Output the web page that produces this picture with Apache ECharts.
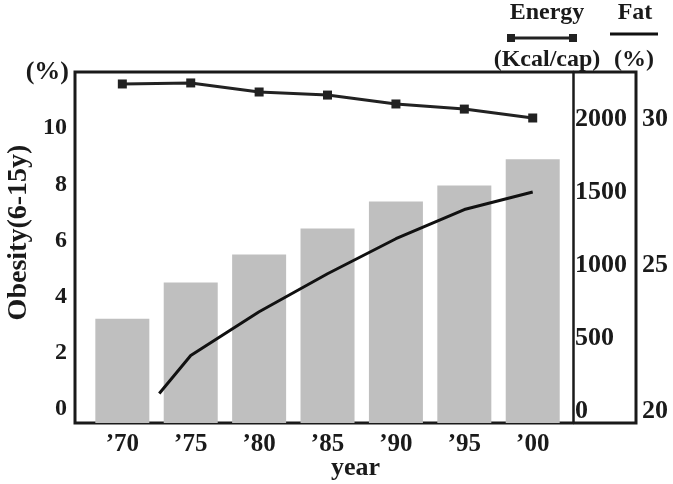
<!DOCTYPE html>
<html><head><meta charset="utf-8">
<script src="https://cdn.jsdelivr.net/npm/echarts@6/dist/echarts.min.js"></script>
<style>html,body{margin:0;padding:0;background:#fff}#c{width:673px;height:484px}</style>
</head><body><div id="c"></div>
<script>
const years = [1970, 1975, 1980, 1985, 1990, 1995, 2000];
const obesity = [3.21, 4.5, 5.5, 6.43, 7.39, 7.96, 8.89];
const energy = [2240, 2247, 2185, 2164, 2103, 2068, 2007];
const fatYears = [1972.7, 1975, 1980, 1985, 1990, 1995, 2000];
const fat = [20.6, 21.9, 23.4, 24.7, 25.9, 26.9, 27.5];
const obesityTicks = [0, 2, 4, 6, 8, 10];
const energyTicks = [0, 500, 1000, 1500, 2000];
const fatTicks = [20, 25, 30];

const FONT = '"Liberation Serif", "Times New Roman", serif';
const INK = '#1a1a1a';
const chart = echarts.init(document.getElementById('c'), null, {renderer: 'canvas'});

function lbl(size) {
  return {fontFamily: FONT, fontWeight: 'bold', fontSize: size, color: INK};
}

chart.setOption({
  animation: false,
  backgroundColor: '#fff',
  grid: {left: 75, right: 37, top: 72, bottom: 61, show: true, borderColor: INK, borderWidth: 3,
         backgroundColor: 'transparent', containLabel: false, outerBoundsMode: 'none'},
  xAxis: {
    type: 'value', min: 1966.54, max: 2007.55, splitNumber: 8,
    axisLine: {show: false}, axisTick: {show: false}, splitLine: {show: false},
    axisLabel: Object.assign(lbl(25), {margin: 9, showMinLabel: true, showMaxLabel: true,
      formatter: v => years.includes(v) ? '\u2019' + String(v).slice(2) : ''}),
    name: 'year', nameLocation: 'middle', nameGap: 32, nameMoveOverlap: false, nameTextStyle: lbl(26)
  },
  yAxis: [
    {
      type: 'value', position: 'left', min: -0.5, max: 12, splitNumber: 6, startValue: -0.5,
      axisLine: {show: false}, axisTick: {show: false}, splitLine: {show: false},
      axisLabel: Object.assign(lbl(24), {margin: 8,
        formatter: v => obesityTicks.includes(v) ? String(v) : ''}),
      name: 'Obesity(6-15y)', nameLocation: 'middle', nameGap: 42, nameMoveOverlap: false,
      nameTextStyle: Object.assign(lbl(28), {padding: [0, 0, 0, 30]})
    },
    {
      type: 'value', position: 'right', offset: -63, min: -82, max: 2322, splitNumber: 5,
      axisLine: {show: true, onZero: false, lineStyle: {color: INK, width: 2.5}},
      axisTick: {show: false}, splitLine: {show: false},
      axisLabel: Object.assign(lbl(26), {margin: 2,
        formatter: v => energyTicks.includes(v) ? String(v) : ''})
    },
    {
      type: 'value', position: 'right', offset: 0, min: 19.59, max: 31.61, splitNumber: 2,
      axisLine: {show: false}, axisTick: {show: false}, splitLine: {show: false},
      axisLabel: Object.assign(lbl(26), {margin: 6,
        formatter: v => fatTicks.includes(v) ? String(v) : ''})
    }
  ],
  series: [
    {
      type: 'bar', name: 'Obesity', yAxisIndex: 0, barWidth: 54,
      itemStyle: {color: '#bfbfbf'},
      data: years.map((y, i) => [y, obesity[i]])
    },
    {
      type: 'line', name: 'Fat', yAxisIndex: 2, symbol: 'none',
      lineStyle: {color: '#111', width: 3},
      data: fatYears.map((y, i) => [y, fat[i]])
    },
    {
      type: 'line', name: 'Energy', yAxisIndex: 1, symbol: 'rect', symbolSize: 9,
      itemStyle: {color: '#222'}, lineStyle: {color: '#222', width: 3},
      data: years.map((y, i) => [y, energy[i]])
    }
  ],
  graphic: [
    {type: 'text', x: 69, y: 72, style: {text: '(%)', font: 'bold 26px ' + FONT, fill: INK, align: 'right', verticalAlign: 'middle'}},
    {type: 'text', x: 547, y: 13, style: {text: 'Energy', font: 'bold 24px ' + FONT, fill: INK, align: 'center', verticalAlign: 'middle'}},
    {type: 'line', shape: {x1: 511, y1: 38, x2: 573, y2: 38}, style: {stroke: '#222', lineWidth: 3}},
    {type: 'rect', shape: {x: 507, y: 34, width: 8, height: 8}, style: {fill: '#222'}},
    {type: 'rect', shape: {x: 569, y: 34, width: 8, height: 8}, style: {fill: '#222'}},
    {type: 'text', x: 547, y: 60, style: {text: '(Kcal/cap)', font: 'bold 24px ' + FONT, fill: INK, align: 'center', verticalAlign: 'middle'}},
    {type: 'text', x: 635, y: 13, style: {text: 'Fat', font: 'bold 24px ' + FONT, fill: INK, align: 'center', verticalAlign: 'middle'}},
    {type: 'line', shape: {x1: 610, y1: 34, x2: 658, y2: 34}, style: {stroke: '#111', lineWidth: 3}},
    {type: 'text', x: 634, y: 60, style: {text: '(%)', font: 'bold 24px ' + FONT, fill: INK, align: 'center', verticalAlign: 'middle'}}
  ]
});
</script>
</body></html>
